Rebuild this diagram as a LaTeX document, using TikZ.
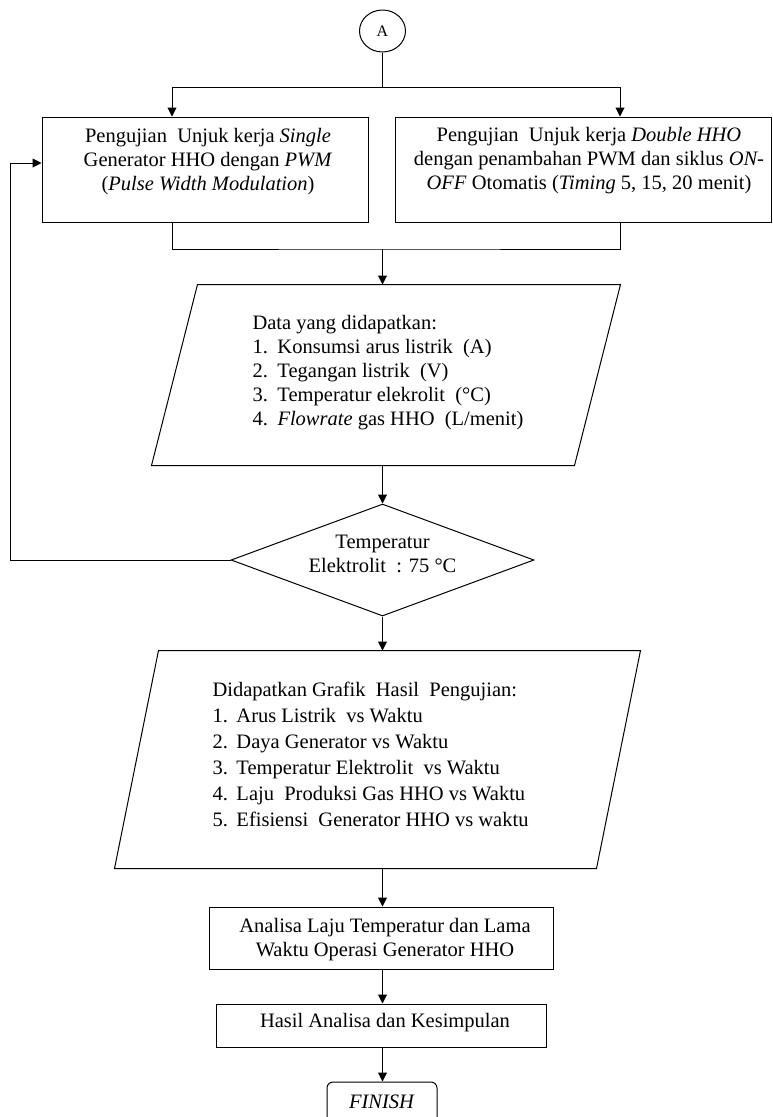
\documentclass[tikz,border=0pt]{standalone}
\usepackage{fontspec}
\setmainfont{Liberation Serif}
\usetikzlibrary{arrows.meta,shapes.geometric}
\begin{document}
\begin{tikzpicture}[x=1pt,y=-1pt,line width=1pt,
  arr/.style={-{Triangle[length=9pt,width=9pt]}},
  box/.style={draw,rectangle,inner sep=0pt},
  txt/.style={font=\fontsize{20.5}{24}\selectfont,inner sep=0pt},
  txtb/.style={font=\fontsize{20.5}{26}\selectfont,inner sep=0pt},
  ghost/.style={rectangle,inner sep=0pt}]
\useasboundingbox (0,0) rectangle (772,1117);
% connector A
\node[ellipse,draw,minimum width=46pt,minimum height=42pt,inner sep=0pt,font=\fontsize{16}{16}\selectfont] (A) at (382.5,31) {A};
% two test boxes
\node[box,minimum width=326pt,minimum height=105pt] (L) at (205,169.5) {};
\node[txt,align=center,anchor=base] (Lt) at (208,190) {Pengujian\ \ Unjuk kerja \textit{Single}\\Generator HHO dengan \textit{PWM}\\(\textit{Pulse Width Modulation})};
\node[box,minimum width=376pt,minimum height=105pt] (R) at (583.5,169.5) {};
\node[txt,align=center,anchor=base] (Rt) at (589,189) {Pengujian\ \ Unjuk kerja \textit{Double HHO}\\dengan penambahan PWM dan siklus \textit{ON-}\\\textit{OFF} Otomatis (\textit{Timing} 5, 15, 20 menit)};
% data parallelogram
\node[ghost,minimum width=468pt,minimum height=180pt] (P1) at (386,375) {};
\draw ([xshift=46pt]P1.north west) -- (P1.north east) -- ([xshift=-46pt]P1.south east) -- (P1.south west) -- cycle;
\node[txt,align=left,anchor=base west] (P1t) at (252,425) {Data yang didapatkan:\\
\makebox[25pt][l]{1.}Konsumsi arus listrik\ \ (A)\\
\makebox[25pt][l]{2.}Tegangan listrik\ \ (V)\\
\makebox[25pt][l]{3.}Temperatur elekrolit\ \ (°C)\\
\makebox[25pt][l]{4.}\textit{Flowrate} gas HHO\ \ (L/menit)};
% decision
\node[diamond,draw,minimum width=303pt,minimum height=112pt,inner sep=0pt] (D) at (382.5,560) {};
\node[txt,align=center,anchor=base] (Dt) at (382.5,572) {Temperatur\\Elektrolit\ \ : 75 °C};
% results parallelogram
\node[ghost,minimum width=525pt,minimum height=217pt] (P2) at (377.5,759.5) {};
\draw ([xshift=44pt]P2.north west) -- (P2.north east) -- ([xshift=-44pt]P2.south east) -- (P2.south west) -- cycle;
\node[txtb,align=left,anchor=base west] (P2t) at (212,826) {Didapatkan Grafik\ \ Hasil\ \ Pengujian:\\
\makebox[24pt][l]{1.}Arus Listrik\ \ vs Waktu\\
\makebox[24pt][l]{2.}Daya Generator vs Waktu\\
\makebox[24pt][l]{3.}Temperatur Elektrolit\ \ vs Waktu\\
\makebox[24pt][l]{4.}Laju\ \ Produksi Gas HHO vs Waktu\\
\makebox[24pt][l]{5.}Efisiensi\ \ Generator HHO vs waktu};
% analysis boxes
\node[box,minimum width=344pt,minimum height=62pt] (B1) at (381,938) {};
\node[txt,align=center,anchor=base] (B1t) at (385,956) {Analisa Laju Temperatur dan Lama\\Waktu Operasi Generator HHO};
\node[box,minimum width=330pt,minimum height=43pt] (B2) at (381,1025.5) {};
\node[txt,anchor=base] (B2t) at (385,1027) {Hasil Analisa dan Kesimpulan};
\node[draw,rectangle,rounded corners=6pt,minimum width=110pt,minimum height=60pt,inner sep=0pt] (F) at (382,1112) {};
\node[txt,anchor=base] (Ft) at (382,1108) {\textit{FINISH}};
% connectors
\coordinate (j1) at (382.5,87);
\coordinate (j2) at (382.5,249);
\coordinate (lx) at (172,0);
\coordinate (rx) at (620,0);
\coordinate (fb) at (10,163);
\draw (A.south) -- (j1);
\draw[arr] (j1) -| (lx |- L.north);
\draw[arr] (j1) -| (rx |- R.north);
\draw (lx |- L.south) |- (j2) -| (rx |- R.south);
\draw[arr] (j2) -- (j2 |- P1.north);
\draw[arr] (P1.south -| j2) -- (D.north);
\draw[arr] (D.west) -| (fb) -- (fb -| L.west);
\draw[arr] (D.south) -- (D.south |- P2.north);
\draw[arr] (P2.south -| j2) -- (B1.north -| j2);
\draw[arr] (B1.south -| j2) -- (B2.north -| j2);
\draw[arr] (B2.south -| j2) -- (F.north -| j2);
\end{tikzpicture}
\end{document}
